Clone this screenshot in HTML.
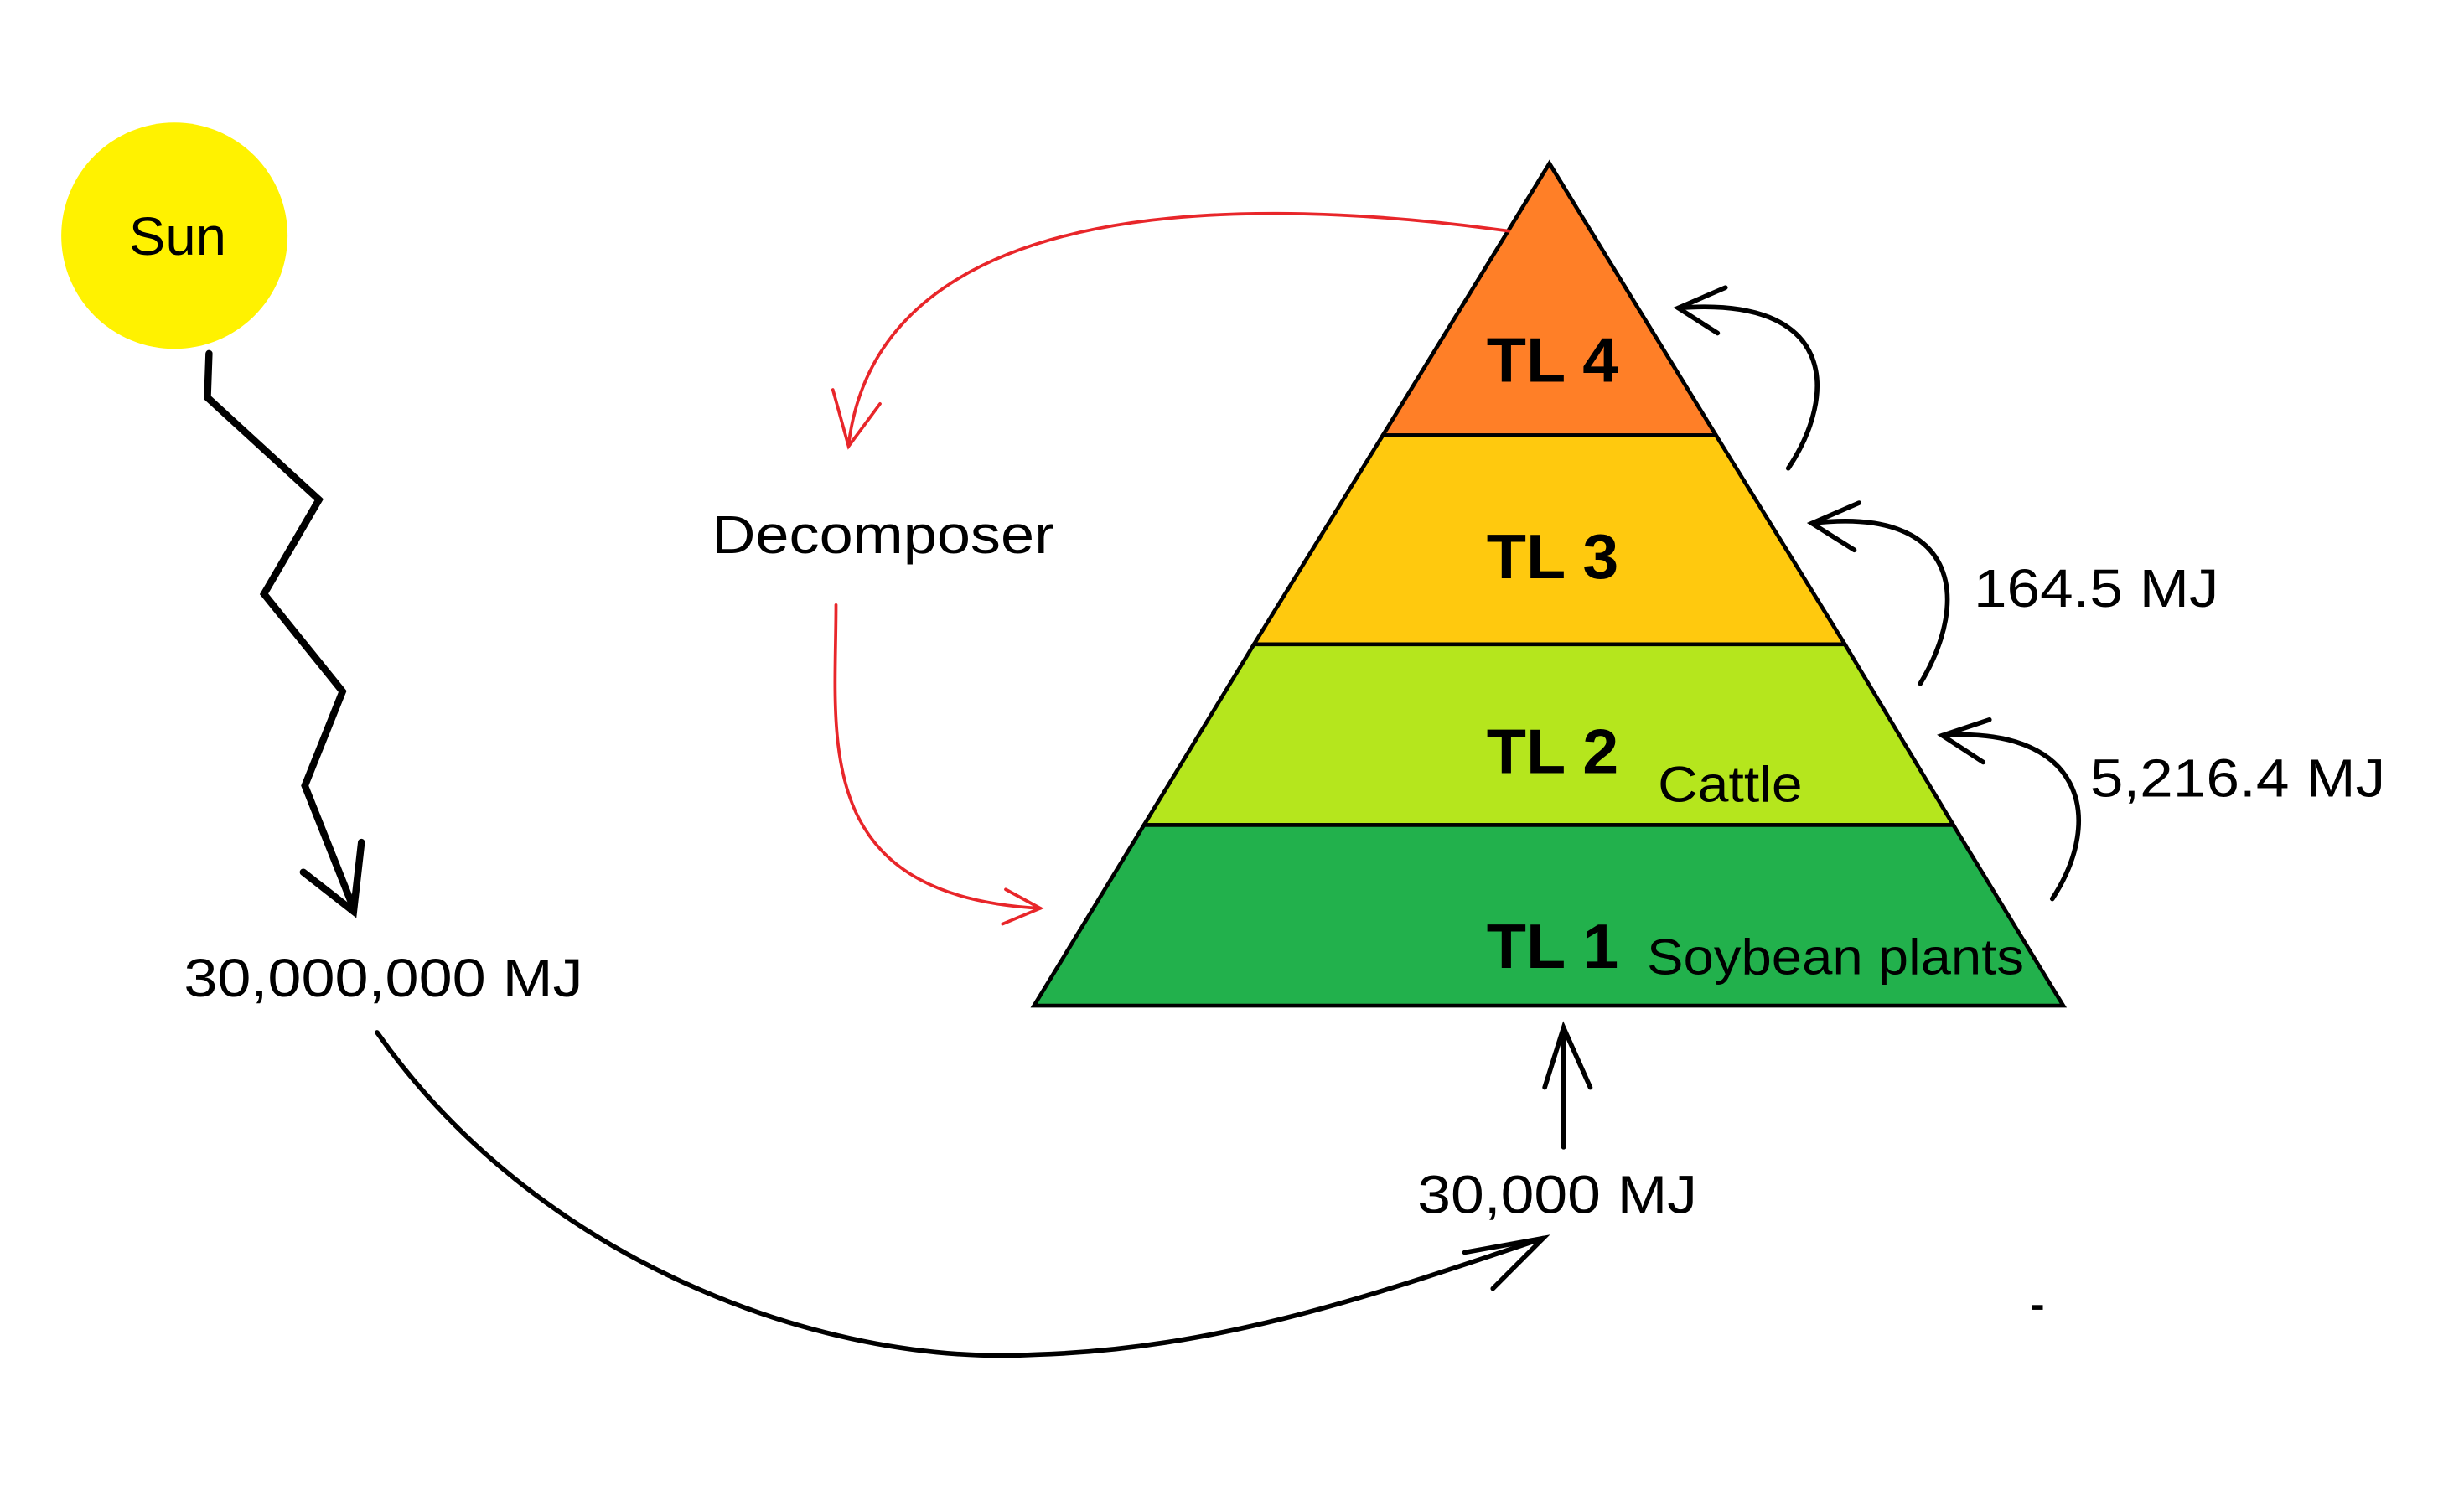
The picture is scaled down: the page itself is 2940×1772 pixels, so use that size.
<!DOCTYPE html>
<html><head><meta charset="utf-8"><style>html,body{margin:0;padding:0;background:#fff}svg{display:block}</style></head>
<body>
<svg xmlns="http://www.w3.org/2000/svg" width="2940" height="1772" viewBox="0 0 1568 945" preserveAspectRatio="none" font-family="'Liberation Sans', sans-serif">
<rect width="1568" height="945" fill="#fff"/>
<ellipse cx="111" cy="150" rx="72" ry="72" fill="#FFF200"/>
<text x="113" y="162" font-size="34" text-anchor="middle" textLength="62" lengthAdjust="spacingAndGlyphs">Sun</text>
<g fill="none" stroke="#000" stroke-width="4.5" stroke-linejoin="miter" stroke-linecap="round">
<polyline points="133,225 132,253 203,318 168,378 218,440 194,500 225,578"/>
<polyline points="193,555 225,580 230,536"/>
</g>
<text x="117" y="634" font-size="34" textLength="254" lengthAdjust="spacingAndGlyphs">30,000,000 MJ</text>
<g fill="none" stroke="#000" stroke-width="3" stroke-linecap="round">
<path d="M240,657 C340,800 520,870 660,862 C780,858 880,822 982,788"/>
<polyline points="932,797 982,788 950,820"/>
<line x1="995" y1="730" x2="995" y2="654"/>
<polyline points="983,692 995,654 1012,692"/>
</g>
<text x="902" y="772" font-size="34" textLength="178" lengthAdjust="spacingAndGlyphs">30,000 MJ</text>
<g stroke="#000" stroke-width="2.5">
<polygon points="986,104 880,277 1092,277" fill="#FF7F27"/>
<polygon points="880,277 1092,277 1174,410 798,410" fill="#FFC90E"/>
<polygon points="798,410 1174,410 1243,525 728,525" fill="#B5E61D"/>
<polygon points="728,525 1243,525 1313,640 658,640" fill="#22B14C"/>
</g>
<g font-weight="bold" font-size="40">
<text x="946" y="243" textLength="84" lengthAdjust="spacingAndGlyphs">TL 4</text>
<text x="946" y="368" textLength="84" lengthAdjust="spacingAndGlyphs">TL 3</text>
<text x="946" y="492" textLength="84" lengthAdjust="spacingAndGlyphs">TL 2</text>
<text x="946" y="616" textLength="84" lengthAdjust="spacingAndGlyphs">TL 1</text>
</g>
<text x="1055" y="510" font-size="32" textLength="92" lengthAdjust="spacingAndGlyphs">Cattle</text>
<text x="1048" y="620" font-size="32" textLength="240" lengthAdjust="spacingAndGlyphs">Soybean plants</text>
<g fill="none" stroke="#000" stroke-width="3" stroke-linecap="round">
<path d="M1138,298 C1170,250 1168,188 1068,196"/>
<polyline points="1098,183 1068,196 1093,212"/>
<path d="M1222,435 C1255,380 1245,322 1153,333"/>
<polyline points="1183,320 1153,333 1180,350"/>
<path d="M1306,572 C1340,520 1325,462 1236,468"/>
<polyline points="1266,458 1236,468 1262,485"/>
</g>
<text x="1256" y="386" font-size="34" textLength="156" lengthAdjust="spacingAndGlyphs">164.5 MJ</text>
<text x="1330" y="507" font-size="34" textLength="188" lengthAdjust="spacingAndGlyphs">5,216.4 MJ</text>
<g fill="none" stroke="#E8262A" stroke-width="2" stroke-linecap="round">
<path d="M960,147 C800,125 560,120 540,283"/>
<polyline points="530,248 540,284 560,257"/>
<path d="M532,385 C532,470 515,570 662,578"/>
<polyline points="640,566 662,578 638,588"/>
</g>
<text x="453" y="352" font-size="34" textLength="218" lengthAdjust="spacingAndGlyphs">Decomposer</text>
<line x1="1293" y1="832" x2="1300" y2="832" stroke="#000" stroke-width="3"/>
</svg>
</body></html>
